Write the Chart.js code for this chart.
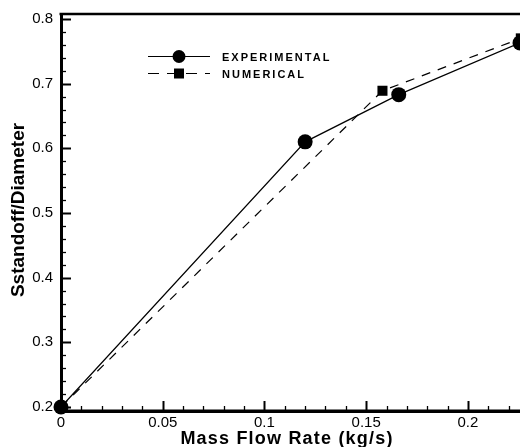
<!DOCTYPE html>
<html>
<head>
<meta charset="utf-8">
<script src="https://cdn.jsdelivr.net/npm/chart.js@4.4.0/dist/chart.umd.min.js"></script>
<style>
  html, body { margin: 0; padding: 0; background: #fff; }
  canvas { display: block; }
</style>
</head>
<body>
<canvas id="chart-1" width="520" height="447"></canvas>
<script>
// values
const expFlow = [0, 0.12, 0.166, 0.2256];
const expRatio = [0.2, 0.61, 0.683, 0.763];
const numFlow = [0, 0.158, 0.226];
const numRatio = [0.2, 0.689, 0.77];
const xTickValues = [0, 0.05, 0.1, 0.15, 0.2];
const yTickValues = [0.2, 0.3, 0.4, 0.5, 0.6, 0.7, 0.8];
const seriesNames = ["EXPERIMENTAL", "NUMERICAL"];
const xTitle = "Mass Flow Rate (kg/s)";
const yTitle = "Sstandoff/Diameter";

const FONT = "'Liberation Sans', Arial, sans-serif";

function toPoints(xs, ys) {
  return xs.map((x, i) => ({ x: x, y: ys[i] }));
}

// inward ticks, x labels, top frame line, axis titles and the in-plot legend
const framePlugin = {
  id: "frame",
  afterLayout(chart) {
    // the plot runs off the right edge of the picture
    const xs = chart.scales.x;
    chart.chartArea.right = chart.width;
    chart.chartArea.width = chart.width - chart.chartArea.left;
    xs.right = chart.width;
    xs.width = xs.right - xs.left;
    xs.configure();
  },
  afterDatasetsDraw(chart) {
    const ctx = chart.ctx;
    const area = chart.chartArea;
    const xs = chart.scales.x;
    const ys = chart.scales.y;
    ctx.save();
    ctx.strokeStyle = "#000";
    ctx.fillStyle = "#000";

    // x ticks
    for (let i = 0; i <= 22; i++) {
      const v = i / 100;
      const px = Math.round(xs.getPixelForValue(v)) + 0.5;
      const major = i % 5 === 0;
      ctx.lineWidth = major ? 2 : 1.3;
      ctx.beginPath();
      ctx.moveTo(px, area.bottom);
      ctx.lineTo(px, area.bottom - (major ? 10 : 5));
      ctx.stroke();
    }
    // x tick labels
    ctx.font = "15px " + FONT;
    ctx.textAlign = "center";
    ctx.textBaseline = "alphabetic";
    xTickValues.forEach((v) => {
      ctx.fillText(String(v), xs.getPixelForValue(v), 427);
    });

    // y ticks
    for (let i = 10; i <= 40; i++) {
      const v = i / 50;
      const py = Math.round(ys.getPixelForValue(v)) + 0.5;
      const major = i % 5 === 0;
      ctx.lineWidth = major ? 2 : 1.3;
      ctx.beginPath();
      ctx.moveTo(area.left, py);
      ctx.lineTo(area.left + (major ? 10 : 5), py);
      ctx.stroke();
    }
    // top frame and bottom axis to the picture edge
    ctx.lineWidth = 2.5;
    ctx.beginPath();
    ctx.moveTo(area.left - 1.5, area.top);
    ctx.lineTo(chart.width, area.top);
    ctx.stroke();
    ctx.lineWidth = 3;
    ctx.beginPath();
    ctx.moveTo(area.left, area.bottom);
    ctx.lineTo(chart.width, area.bottom);
    ctx.stroke();

    // legend
    ctx.lineWidth = 1.2;
    ctx.beginPath();
    ctx.moveTo(148, 56.5);
    ctx.lineTo(210, 56.5);
    ctx.stroke();
    ctx.beginPath();
    ctx.arc(179, 56.5, 6.5, 0, Math.PI * 2);
    ctx.fill();

    ctx.setLineDash([11, 8]);
    ctx.beginPath();
    ctx.moveTo(148, 73.5);
    ctx.lineTo(210, 73.5);
    ctx.stroke();
    ctx.setLineDash([]);
    ctx.fillRect(174, 68.5, 10, 10);

    ctx.font = "bold 11px " + FONT;
    ctx.letterSpacing = "2px";
    ctx.textAlign = "left";
    ctx.fillText(seriesNames[0], 222, 61);
    ctx.fillText(seriesNames[1], 222, 78);

    // axis titles
    ctx.font = "bold 18px " + FONT;
    ctx.letterSpacing = "1.2px";
    ctx.textAlign = "center";
    ctx.fillText(xTitle, 287, 443.5);

    ctx.font = "bold 19px " + FONT;
    ctx.letterSpacing = "0px";
    ctx.translate(24, 210);
    ctx.rotate(-Math.PI / 2);
    ctx.fillText(yTitle, 0, 0);
    ctx.restore();
  }
};

const ctx = document.getElementById("chart-1").getContext("2d");
const myChart = new Chart(ctx, {
  type: "scatter",
  data: {
    datasets: [
      {
        label: seriesNames[0],
        data: toPoints(expFlow, expRatio),
        showLine: true,
        borderColor: "#000",
        borderWidth: 1.2,
        backgroundColor: "#000",
        pointStyle: "circle",
        pointRadius: 7.5,
        pointBorderWidth: 0,
        clip: false,
        order: 1
      },
      {
        label: seriesNames[1],
        data: toPoints(numFlow, numRatio),
        showLine: true,
        borderColor: "#000",
        borderWidth: 1.2,
        borderDash: [9, 8],
        backgroundColor: "#000",
        pointStyle: "rect",
        pointRadius: 7.1,
        pointBorderWidth: 0,
        clip: false,
        order: 0
      }
    ]
  },
  options: {
    responsive: false,
    animation: false,
    events: [],
    layout: { padding: { top: 14, right: 0, left: 0, bottom: 0 } },
    plugins: {
      legend: { display: false },
      tooltip: { enabled: false }
    },
    scales: {
      x: {
        type: "linear",
        min: 0,
        max: 0.2256,
        afterBuildTicks: (scale) => {
          scale.ticks = xTickValues.map((v) => ({ value: v }));
        },
        afterFit: (scale) => {
          scale.height = 36;
          scale.paddingLeft = 0;
          scale.paddingRight = 0;
        },
        grid: { display: true, drawOnChartArea: false, drawTicks: false },
        border: { display: true, color: "#000", width: 3 },
        ticks: { display: false },
        title: { display: false }
      },
      y: {
        type: "linear",
        min: 0.1938,
        max: 0.8077,
        afterBuildTicks: (scale) => {
          scale.ticks = yTickValues.map((v) => ({ value: v }));
        },
        afterFit: (scale) => {
          scale.width = 61;
          scale.paddingTop = 0;
          scale.paddingBottom = 0;
        },
        grid: { display: true, drawOnChartArea: false, drawTicks: false },
        border: { display: true, color: "#000", width: 3 },
        ticks: {
          color: "#000",
          padding: 8,
          font: { family: FONT, size: 15 },
          callback: (v) => (Math.round(v * 10) / 10).toFixed(1)
        },
        title: { display: false }
      }
    }
  },
  plugins: [framePlugin]
});
</script>
</body>
</html>
